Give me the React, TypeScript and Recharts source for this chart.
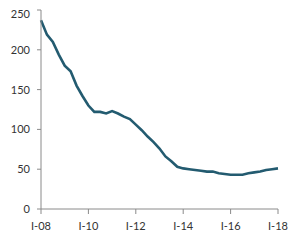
import { LineChart, Line, XAxis, YAxis } from 'recharts';

// quarterly series, Q1 2008 .. Q1 2018
const YEARS = ['08', '09', '10', '11', '12', '13', '14', '15', '16', '17', '18'];
const QUARTERS = ['I', 'II', 'III', 'IV'];
const VALUES = [
  237, 219, 210, 194, 180, 173, 155, 142, 130, 122,
  122, 120, 123, 120, 116, 113, 106, 99, 91, 84,
  76, 66, 60, 53, 51, 50, 49, 48, 47, 47,
  45, 44, 43, 43, 43, 45, 46, 47, 49, 50,
  51,
];
const Y_TICKS = [0, 50, 100, 150, 200, 250];

const CATEGORIES = YEARS.flatMap((y) => QUARTERS.map((q) => `${q}-${y}`)).slice(0, VALUES.length);
const data = CATEGORIES.map((period, i) => ({ period, value: VALUES[i] }));

const AXIS = '#8a8a8a';
const tickStyle = { fill: '#333', fontSize: 11, fontFamily: 'Lato' };

export default function App() {
  return (
    <LineChart width={291} height={230} data={data} margin={{ top: 2, right: 21, bottom: 0, left: 0 }}>
      <XAxis
        dataKey="period"
        interval={7}
        height={29}
        stroke={AXIS}
        tick={tickStyle}
        tickSize={5}
        tickMargin={8}
      />
      <YAxis
        domain={[0, 250]}
        ticks={Y_TICKS}
        width={33}
        stroke={AXIS}
        tick={tickStyle}
        tickSize={4}
        tickMargin={7}
      />
      <Line
        type="linear"
        dataKey="value"
        stroke="#235b70"
        strokeWidth={2.6}
        dot={false}
        isAnimationActive={false}
      />
    </LineChart>
  );
}
